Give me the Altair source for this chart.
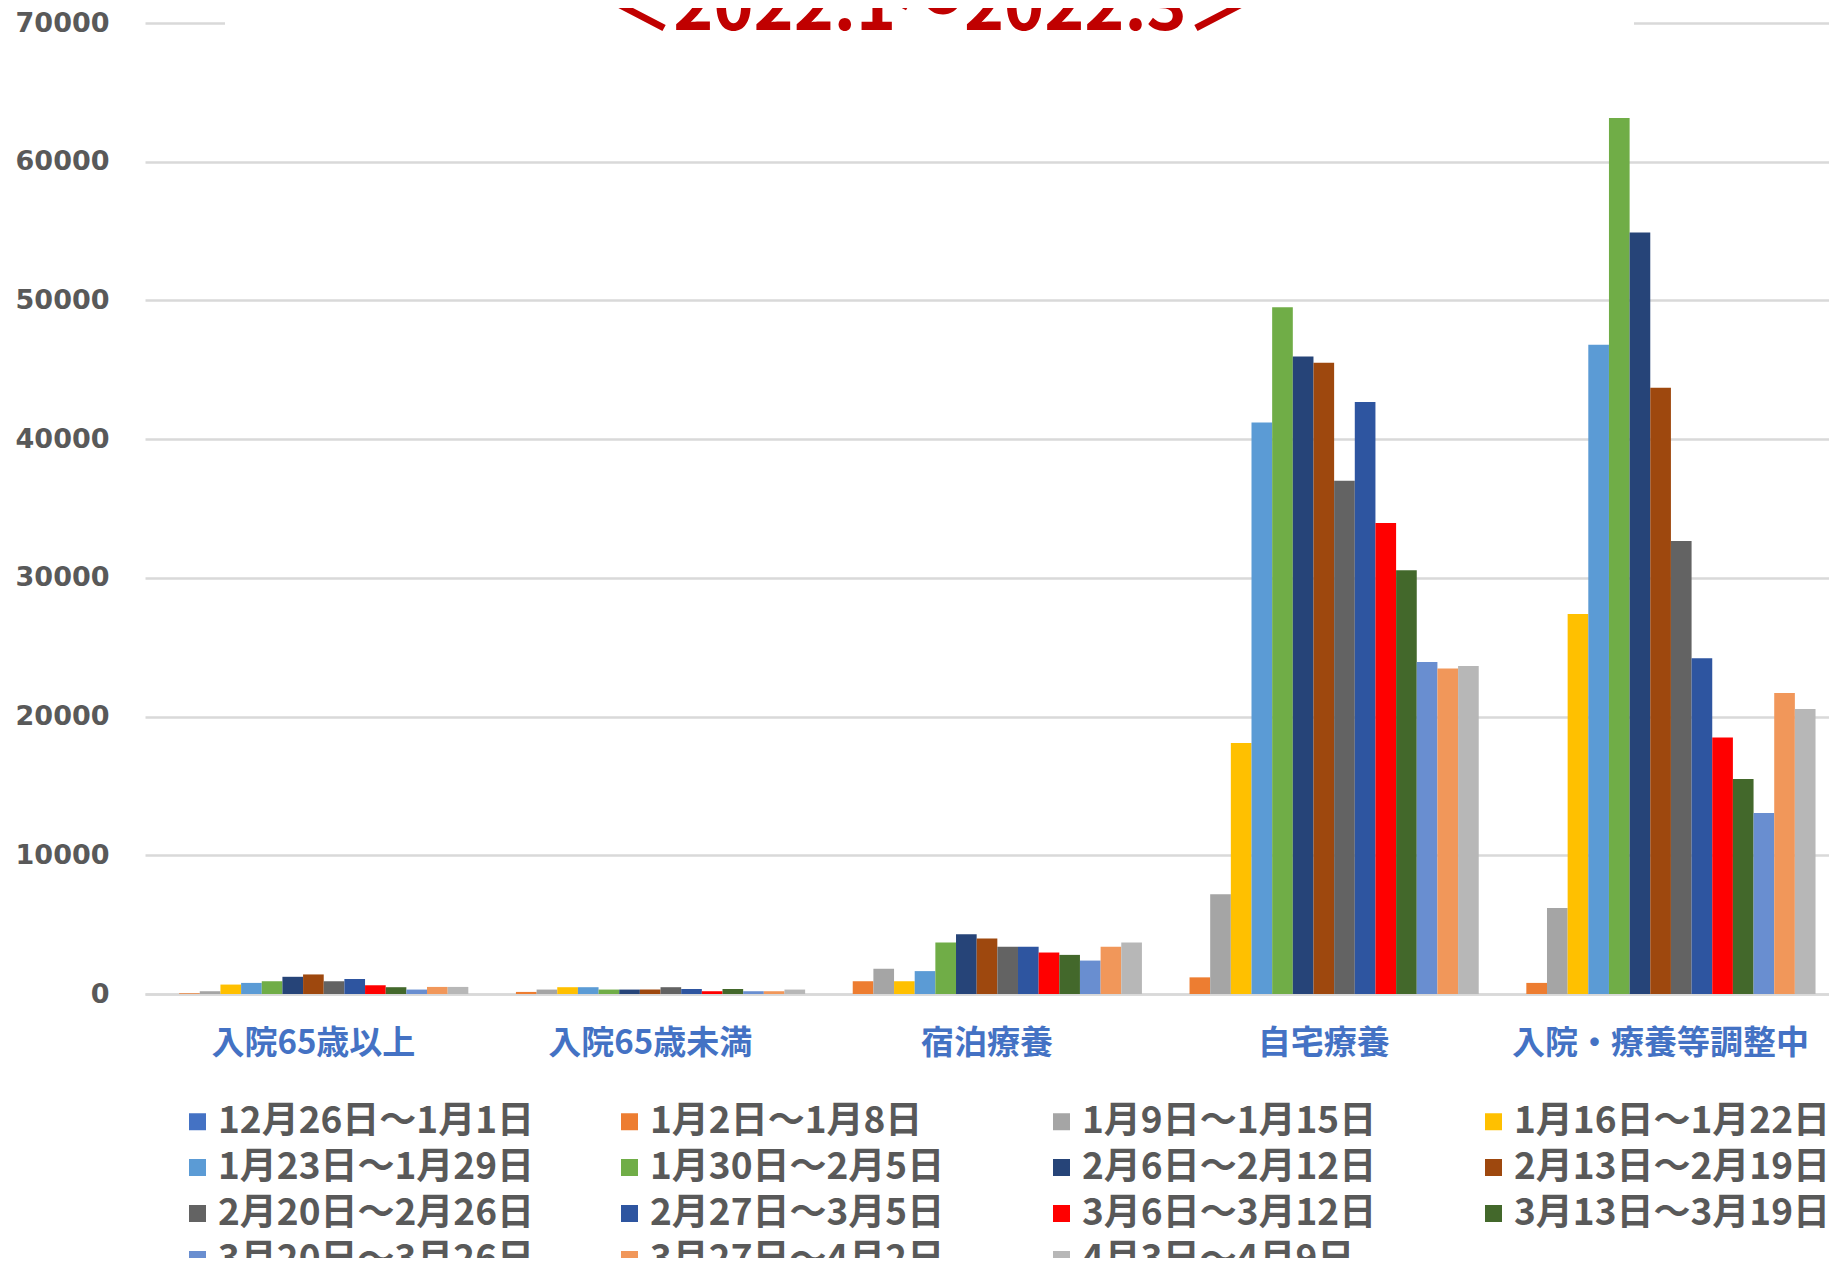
import altair as alt
import pandas as pd

categories = ["入院65歳以上", "入院65歳未満", "宿泊療養", "自宅療養", "入院・療養等調整中"]

weeks = [
    "12月26日～1月1日", "1月2日～1月8日", "1月9日～1月15日", "1月16日～1月22日",
    "1月23日～1月29日", "1月30日～2月5日", "2月6日～2月12日", "2月13日～2月19日",
    "2月20日～2月26日", "2月27日～3月5日", "3月6日～3月12日", "3月13日～3月19日",
    "3月20日～3月26日", "3月27日～4月2日", "4月3日～4月9日",
]

colors = [
    "#4472C4", "#ED7D31", "#A5A5A5", "#FFC000", "#5B9BD5", "#70AD47", "#264478",
    "#9E480E", "#636363", "#2E55A0", "#FF0000", "#43682B", "#698ED0", "#F1975A", "#B7B7B7",
]

# values per category, one per week (in the order of `weeks`)
hosp_65_over = [0, 50, 200, 680, 800, 920, 1240, 1410, 920, 1090, 630, 490, 320, 510, 510]
hosp_65_under = [0, 150, 320, 490, 490, 320, 320, 320, 490, 360, 200, 360, 200, 200, 320]
hotel = [0, 920, 1820, 920, 1650, 3720, 4300, 4010, 3400, 3400, 2990, 2820, 2410, 3400, 3720]
home = [0, 1200, 7200, 18100, 41200, 49500, 45950, 45500, 37000, 42680, 33950, 30550, 23930, 23470, 23640]
adjusting = [0, 800, 6200, 27400, 46800, 63150, 54900, 43700, 32650, 24200, 18500, 15500, 13050, 21700, 20550]

title_text = "＜2022.1～2022.3＞"

series = [hosp_65_over, hosp_65_under, hotel, home, adjusting]
rows = []
for cat, vals in zip(categories, series):
    for w, v in zip(weeks, vals):
        rows.append({"category": cat, "week": w, "value": v})
df = pd.DataFrame(rows)

W, H = 1684, 971

bars = alt.Chart(df).mark_bar().encode(
    x=alt.X("category:N", sort=categories,
            scale=alt.Scale(paddingInner=0.08, paddingOuter=0.04),
            axis=alt.Axis(title=None, labelAngle=0, labelFont="Noto Sans CJK JP",
                          labelFontWeight="bold", labelFontSize=33, labelColor="#4472C4",
                          labelPadding=33, labelLimit=0, ticks=False, domainColor="#D9D9D9",
                          domainWidth=2.5, grid=False)),
    xOffset=alt.XOffset("week:N", sort=weeks, scale=alt.Scale(paddingInner=0, paddingOuter=0)),
    y=alt.Y("value:Q", scale=alt.Scale(domain=[0, 70000], nice=False),
            axis=alt.Axis(title=None, values=list(range(0, 70001, 10000)), format="d",
                          labelFont="DejaVu Sans", labelFontWeight="bold", labelFontSize=27,
                          labelColor="#595959", labelPadding=36, ticks=False, domain=False,
                          gridColor="#D9D9D9", gridWidth=2.5)),
    color=alt.Color("week:N", sort=weeks,
                    scale=alt.Scale(domain=weeks, range=colors),
                    legend=alt.Legend(title=None, orient="none", legendX=34, legendY=1080,
                                      direction="horizontal",
                                      columns=4, gridAlign="all", columnPadding=77,
                                      rowPadding=8, symbolType="square", symbolSize=289,
                                      symbolStrokeWidth=0, labelFont="Noto Sans CJK JP",
                                      labelFontWeight="bold", labelFontSize=37,
                                      labelColor="#595959", labelOffset=2, labelLimit=0,
                                      padding=0)),
)

cover = alt.Chart(pd.DataFrame({"a": [0]})).mark_rect(color="white").encode(
    x=alt.value(80), x2=alt.value(1489), y=alt.value(-6), y2=alt.value(6)
)

title = alt.Chart(pd.DataFrame({"t": [title_text]})).mark_text(
    font="Noto Sans CJK JP", fontWeight="bold", fontSize=68, color="#C00000",
    align="center", baseline="alphabetic"
).encode(text="t:N", x=alt.value(785), y=alt.value(7))

chart = alt.layer(bars, cover, title).properties(
    width=W, height=H,
    autosize=alt.AutoSizeParams(type="none"),
    padding={"left": 137, "top": 15, "right": 0, "bottom": 264},
    background="white",
).configure_view(stroke=None)

chart.save("out.html", embed_options={"renderer": "svg", "actions": False})
